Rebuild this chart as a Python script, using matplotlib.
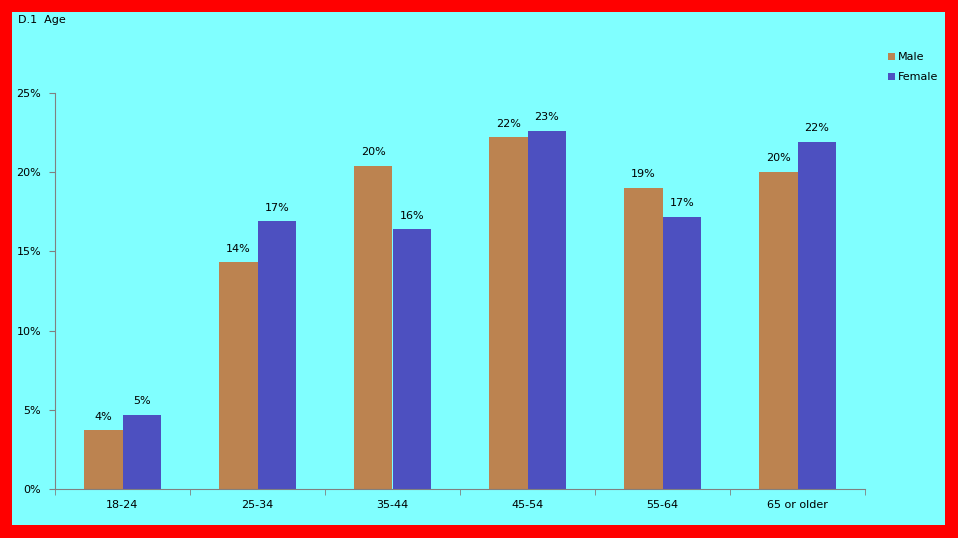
import numpy as np
import matplotlib
matplotlib.use('Agg')
from matplotlib import pyplot as plt

categories = ['18-24', '25-34', '35-44', '45-54', '55-64', '65 or older']
male = [3.7, 14.3, 20.4, 22.2, 19.0, 20.0]
female = [4.7, 16.9, 16.4, 22.6, 17.2, 21.9]
yticks = [0, 5, 10, 15, 20, 25]

c_male = '#BC8350'
c_female = '#4D50C0'
bg = '#80FFFF'
axc = '#808080'
fs = 8

W, H = 958, 538
fig = plt.figure(figsize=(W/100, H/100), dpi=100)
fig.patch.set_facecolor('#FF0000')

# cyan panel inside the red frame
bgax = fig.add_axes([12/W, 1-525/H, (945-12)/W, (525-12)/H], zorder=-1)
bgax.axis('off')
bgax.add_patch(plt.Rectangle((0, 0), 1, 1, transform=bgax.transAxes,
                             facecolor=bg, edgecolor='none'))

ax = fig.add_axes([55/W, 1-489/H, (865-55)/W, (489-93)/H])
ax.set_facecolor('none')

x = np.arange(len(categories))
bw = 0.285
ax.bar(x - bw/2, male, bw, color=c_male, label='Male')
ax.bar(x + bw/2, female, bw, color=c_female, label='Female')

for i in range(len(categories)):
    ax.text(x[i] - bw/2, male[i] + 0.55, '%d%%' % round(male[i]),
            ha='center', va='bottom', fontsize=fs)
    ax.text(x[i] + bw/2, female[i] + 0.55, '%d%%' % round(female[i]),
            ha='center', va='bottom', fontsize=fs)

ax.set_xlim(-0.5, len(categories) - 0.5)
ax.set_ylim(0, 25)
ax.set_yticks(yticks)
ax.set_yticklabels(['%d%%' % v for v in yticks], fontsize=fs)
ax.set_xticks(x)
ax.set_xticklabels(categories, fontsize=fs)
ax.set_xticks(np.arange(len(categories) + 1) - 0.5, minor=True)
ax.tick_params(axis='x', which='major', length=0, pad=8)
ax.tick_params(axis='x', which='minor', length=4, color=axc, direction='out')
ax.tick_params(axis='y', length=4, color=axc, direction='out', pad=6)

for s in ['top', 'right']:
    ax.spines[s].set_visible(False)
for s in ['left', 'bottom']:
    ax.spines[s].set_color(axc)

fig.text(18/W, 1-20/H, 'D.1  Age', fontsize=fs, va='center')

leg = fig.legend(loc='upper left', bbox_to_anchor=(878/W, 1-42/H),
                 frameon=False, fontsize=fs, handlelength=0.6,
                 handleheight=0.6, handletextpad=0.3, labelspacing=0.9)

fig.savefig('out.png', dpi=100, facecolor=fig.get_facecolor())
